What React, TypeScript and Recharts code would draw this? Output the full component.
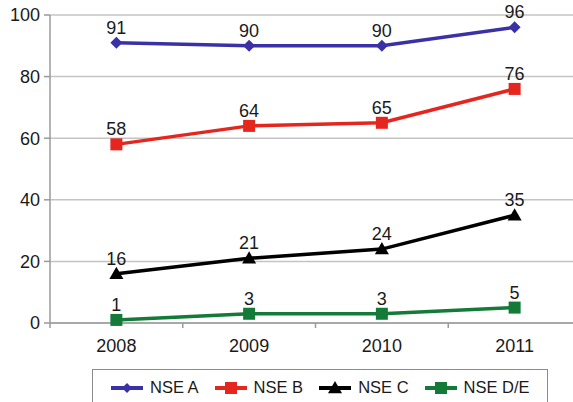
import React from "react"
import { CartesianGrid, LabelList, Line, LineChart, XAxis, YAxis } from "recharts"

// Years on the category axis
const years = ["2008", "2009", "2010", "2011"]

// Share per socio-economic level, one list per series
const nseA = [91, 90, 90, 96]
const nseB = [58, 64, 65, 76]
const nseC = [16, 21, 24, 35]
const nseDE = [1, 3, 3, 5]

const yTicks = [0, 20, 40, 60, 80, 100]

type MarkerShape = "diamond" | "square" | "triangle"

interface SeriesDef {
  key: string
  name: string
  color: string
  shape: MarkerShape
  values: number[]
}

const series: SeriesDef[] = [
  { key: "a", name: "NSE A", color: "#3b31a6", shape: "diamond", values: nseA },
  { key: "b", name: "NSE B", color: "#e5261f", shape: "square", values: nseB },
  { key: "c", name: "NSE C", color: "#000000", shape: "triangle", values: nseC },
  { key: "de", name: "NSE D/E", color: "#137a38", shape: "square", values: nseDE },
]

const data = years.map((year, i) => {
  const row: Record<string, string | number> = { year }
  series.forEach((s) => {
    row[s.key] = s.values[i]
  })
  return row
})

const FONT = "'Liberation Sans', Arial, Helvetica, sans-serif"
const CHART_W = 600
const CHART_H = 402
const MARGIN = { top: 15, right: 19, left: 0, bottom: 49 }
const Y_AXIS_W = 50
const X_AXIS_H = 30
const PLOT_W = CHART_W - MARGIN.left - MARGIN.right - Y_AXIS_W
const BAND = PLOT_W / years.length
const AXIS_Y = CHART_H - MARGIN.bottom - X_AXIS_H

function Marker({ cx, cy, shape, color, size = 6 }: { cx: number; cy: number; shape: MarkerShape; color: string; size?: number }) {
  if (cx == null || cy == null) return null
  if (shape === "diamond") {
    const s = size
    return <path d={`M${cx},${cy - s} L${cx + s},${cy} L${cx},${cy + s} L${cx - s},${cy} Z`} fill={color} />
  }
  if (shape === "triangle") {
    const s = size + 1
    return <path d={`M${cx},${cy - s} L${cx + s},${cy + s * 0.75} L${cx - s},${cy + s * 0.75} Z`} fill={color} />
  }
  return <rect x={cx - size} y={cy - size} width={size * 2} height={size * 2} fill={color} />
}

// Year label centred in its band, with a small tick at the band's left edge
function YearTick(props: any) {
  const { x, payload } = props
  const edge = x - BAND / 2
  return (
    <g>
      <line x1={edge} y1={AXIS_Y} x2={edge} y2={AXIS_Y + 5} stroke="#9a9a9a" strokeWidth={1.5} />
      <text x={x} y={AXIS_Y + 29} textAnchor="middle" fontSize={18} fill="#1a1a1a" fontFamily={FONT}>
        {payload.value}
      </text>
    </g>
  )
}

function LegendBox() {
  return (
    <div
      style={{
        position: "absolute",
        left: 92,
        top: 369,
        width: 456,
        height: 40,
        border: "1.5px solid #8c8c8c",
        boxSizing: "border-box",
        display: "flex",
        alignItems: "flex-start",
        paddingTop: 8,
        paddingLeft: 17,
        fontFamily: FONT,
        fontSize: 16.5,
        color: "#1a1a1a",
        background: "#fff",
      }}
    >
      {series.map((s) => (
        <div key={s.key} style={{ display: "flex", alignItems: "center", marginRight: 15 }}>
          <svg width={34} height={18} style={{ marginRight: 6 }}>
            <line x1={1} y1={9} x2={33} y2={9} stroke={s.color} strokeWidth={4} />
            <Marker cx={17} cy={9} shape={s.shape} color={s.color} size={s.shape === "diamond" ? 5 : 6} />
          </svg>
          <span>{s.name}</span>
        </div>
      ))}
    </div>
  )
}

export default function App() {
  return (
    <div
      style={{
        position: "fixed",
        left: 0,
        top: 0,
        width: 573,
        height: 402,
        overflow: "hidden",
        background: "#fff",
        fontFamily: FONT,
      }}
    >
      <LineChart width={CHART_W} height={CHART_H} data={data} margin={MARGIN}>
        <CartesianGrid vertical={false} stroke="#c4c4c4" strokeWidth={1.5} />
        <XAxis
          dataKey="year"
          scale="band"
          height={X_AXIS_H}
          axisLine={{ stroke: "#9a9a9a", strokeWidth: 1.5 }}
          tickLine={false}
          tick={<YearTick />}
          interval={0}
        />
        <YAxis
          domain={[0, 100]}
          ticks={yTicks}
          width={Y_AXIS_W}
          axisLine={{ stroke: "#9a9a9a", strokeWidth: 1.5 }}
          tickLine={{ stroke: "#9a9a9a", strokeWidth: 1.5 }}
          tickSize={6}
          tickMargin={4}
          tick={{ fontSize: 18, fill: "#1a1a1a", fontFamily: FONT }}
        />
        {series.map((s) => (
          <Line
            key={s.key}
            dataKey={s.key}
            name={s.name}
            type="linear"
            stroke={s.color}
            strokeWidth={3.5}
            isAnimationActive={false}
            dot={(p: any) => <Marker key={`${s.key}-${p.index}`} cx={p.cx} cy={p.cy} shape={s.shape} color={s.color} />}
            activeDot={false}
          >
            <LabelList dataKey={s.key} position="top" offset={9} fontSize={18} fill="#1a1a1a" fontFamily={FONT} />
          </Line>
        ))}
      </LineChart>
      <LegendBox />
    </div>
  )
}
